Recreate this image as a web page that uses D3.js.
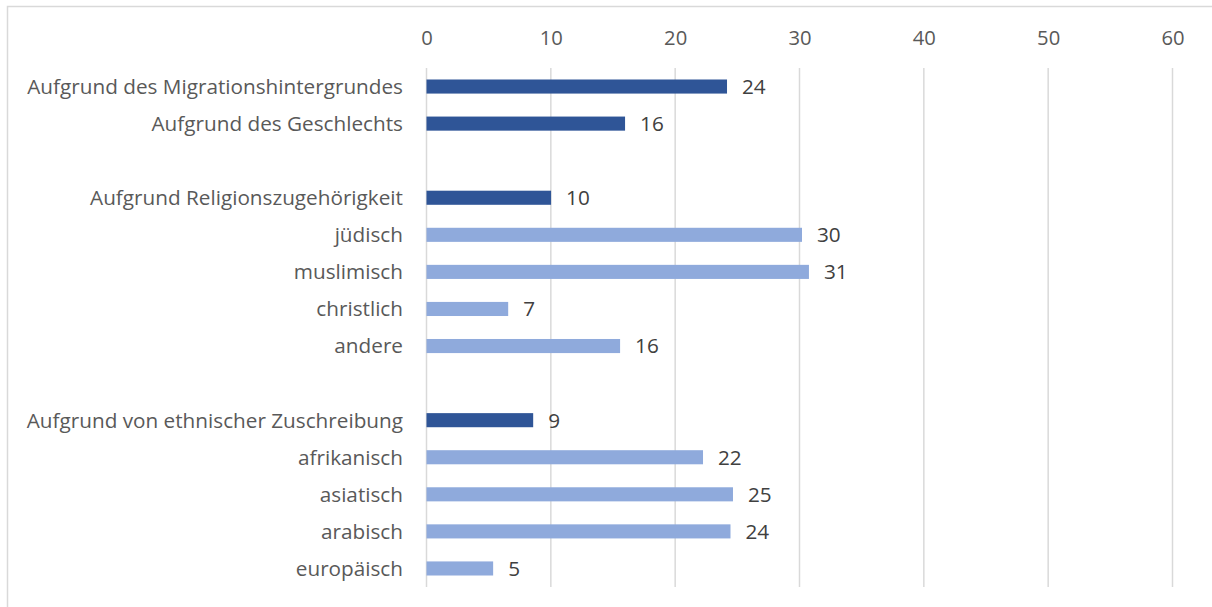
<!DOCTYPE html>
<html><head><meta charset="utf-8">
<script src="https://cdn.jsdelivr.net/npm/d3@7"></script>
<style>html,body{margin:0;padding:0;background:#fff;overflow:hidden}</style>
</head><body>
<svg id="chart" width="1212" height="607"></svg>
<script>
// Data
const categories = ["Aufgrund des Migrationshintergrundes","Aufgrund des Geschlechts","",
  "Aufgrund Religionszugehörigkeit","jüdisch","muslimisch","christlich","andere","",
  "Aufgrund von ethnischer Zuschreibung","afrikanisch","asiatisch","arabisch","europäisch"];
const values = [24.17, 15.97, null, 10.02, 30.2, 30.76, 6.57, 15.57, null, 8.58, 22.24, 24.65, 24.45, 5.36];
const labels = ["24","16","","10","30","31","7","16","","9","22","25","24","5"];
const isMain = [true,true,false,true,false,false,false,false,false,true,false,false,false,false];
const xTicks = [0,10,20,30,40,50,60];

const svg = d3.select("#chart");
const font = "'Open Sans', sans-serif";

// fit font size so the longest category label matches the reference width
const probe = svg.append("text").attr("font-family",font).attr("font-size",20).text(categories[0]);
const w20 = probe.node().getComputedTextLength();
probe.remove();
const fs = Math.min(21, 20 * 376 / w20);

svg.append("rect").attr("x",7.5).attr("y",6.5).attr("width",1230).attr("height",640)
  .attr("fill","#fff").attr("stroke","#d9d9d9").attr("stroke-width",1.5);

const x = d3.scaleLinear().domain([0,60]).range([426.5,1172.5]);
const y = d3.scaleBand().domain(d3.range(categories.length)).range([68,587]).paddingInner(0.62).paddingOuter(0.31);

// gridlines
svg.append("g").selectAll("line").data(xTicks).join("line")
  .attr("x1",d=>x(d)).attr("x2",d=>x(d)).attr("y1",68).attr("y2",587)
  .attr("stroke","#d9d9d9").attr("stroke-width",1.5);

// axis top
const ax = svg.append("g").attr("transform","translate(0,45)")
  .call(d3.axisTop(x).tickValues(xTicks).tickSize(0).tickPadding(0));
ax.select(".domain").remove();
ax.selectAll("text").attr("font-family",font).attr("font-size",fs-0.5).attr("fill","#595959");

// bars
const idx = d3.range(categories.length).filter(i=>values[i]!==null);
svg.append("g").selectAll("rect").data(idx).join("rect")
  .attr("x",x(0)).attr("y",i=>y(i)).attr("height",y.bandwidth())
  .attr("width",i=>x(values[i])-x(0))
  .attr("fill",i=>isMain[i]?"#2F5597":"#8FAADC");

// value labels
svg.append("g").selectAll("text").data(idx).join("text")
  .attr("x",i=>x(values[i])+15).attr("y",i=>y(i)+y.bandwidth()/2).attr("dy","0.36em")
  .attr("font-family",font).attr("font-size",fs).attr("fill","#404040")
  .text(i=>labels[i]);

// category labels
svg.append("g").selectAll("text").data(d3.range(categories.length)).join("text")
  .attr("x",403).attr("y",i=>y(i)+y.bandwidth()/2).attr("dy","0.36em")
  .attr("text-anchor","end")
  .attr("font-family",font).attr("font-size",fs).attr("fill","#595959")
  .text(i=>categories[i]);
</script>
</body></html>
